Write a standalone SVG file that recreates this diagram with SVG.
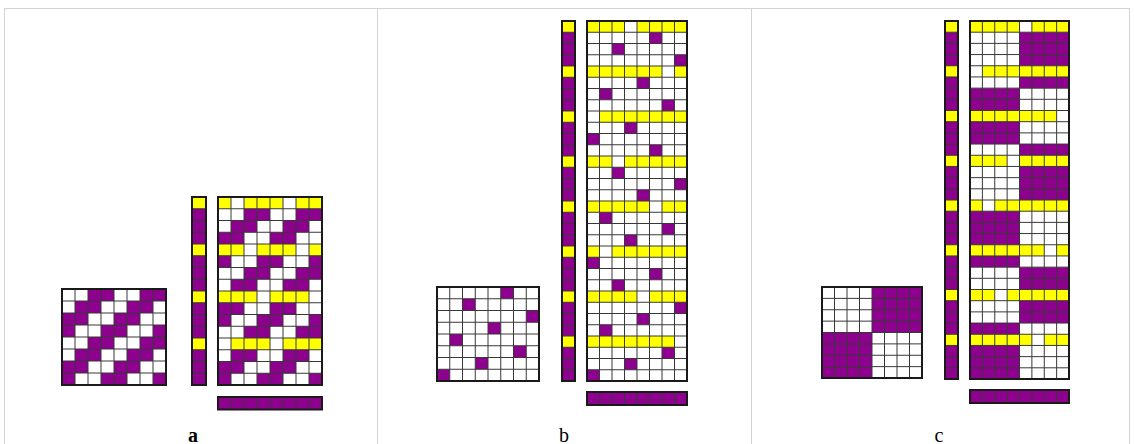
<svg xmlns="http://www.w3.org/2000/svg" width="1134" height="444" viewBox="0 0 1134 444">
<style>
.gl{fill:none;stroke:#383838;stroke-width:1}
.ob{fill:none;stroke:#1a1a1a;stroke-width:2}
.bg{fill:#ffffff}
.p{fill:#8e008e}
.y{fill:#ffff00}
.tb{stroke:#d3d3d3;stroke-width:1;fill:none}
.lbl{font-family:"Liberation Serif",serif;font-size:20px;fill:#000;text-anchor:middle}
</style>

<g id="table">
<rect class="tb" x="4.5" y="8.5" width="1125" height="445"/>
<line class="tb" x1="377.5" y1="8.5" x2="377.5" y2="444"/>
<line class="tb" x1="751.5" y1="8.5" x2="751.5" y2="444"/>
</g>

<!-- Panel a -->
<g id="a-small">
<g transform="translate(62,289) scale(13,12)">
<rect class="bg" width="8" height="8"/>
<path class="p" d="M2 0h2v1h-2zM6 0h2v1h-2zM1 1h2v1h-2zM5 1h2v1h-2zM0 2h2v1h-2zM4 2h2v1h-2zM0 3h1v1h-1zM3 3h2v1h-2zM7 3h1v1h-1zM2 4h2v1h-2zM6 4h2v1h-2zM1 5h2v1h-2zM5 5h2v1h-2zM0 6h2v1h-2zM4 6h2v1h-2zM0 7h1v1h-1zM3 7h2v1h-2zM7 7h1v1h-1z"/>
</g>
<path class="gl" d="M75 289v96M88 289v96M101 289v96M114 289v96M127 289v96M140 289v96M153 289v96M62 301h104M62 313h104M62 325h104M62 337h104M62 349h104M62 361h104M62 373h104"/>
<rect class="ob" x="62" y="289" width="104" height="96"/>
</g>
<g id="a-column">
<g transform="translate(192,197) scale(14,11.75)">
<rect class="p" width="1" height="16"/>
<path class="y" d="M0 0h1v1h-1zM0 4h1v1h-1zM0 8h1v1h-1zM0 12h1v1h-1z"/>
</g>
<path class="gl" d="M192 208.75h14M192 220.5h14M192 232.25h14M192 244h14M192 255.75h14M192 267.5h14M192 279.25h14M192 291h14M192 302.75h14M192 314.5h14M192 326.25h14M192 338h14M192 349.75h14M192 361.5h14M192 373.25h14"/>
<rect class="ob" x="192" y="197" width="14" height="188"/>
</g>
<g id="a-big">
<g transform="translate(218,197) scale(13,11.75)">
<rect class="bg" width="8" height="16"/>
<path class="y" d="M0 0h1v1h-1zM2 0h3v1h-3zM6 0h2v1h-2zM0 4h2v1h-2zM3 4h3v1h-3zM7 4h1v1h-1zM0 8h3v1h-3zM4 8h3v1h-3zM1 12h3v1h-3zM5 12h3v1h-3z"/>
<path class="p" d="M2 1h2v1h-2zM6 1h2v1h-2zM1 2h2v1h-2zM5 2h2v1h-2zM0 3h2v1h-2zM4 3h2v1h-2zM0 5h1v1h-1zM3 5h2v1h-2zM7 5h1v1h-1zM2 6h2v1h-2zM6 6h2v1h-2zM1 7h2v1h-2zM5 7h2v1h-2zM0 9h2v1h-2zM4 9h2v1h-2zM0 10h1v1h-1zM3 10h2v1h-2zM7 10h1v1h-1zM2 11h2v1h-2zM6 11h2v1h-2zM1 13h2v1h-2zM5 13h2v1h-2zM0 14h2v1h-2zM4 14h2v1h-2zM0 15h1v1h-1zM3 15h2v1h-2zM7 15h1v1h-1z"/>
</g>
<path class="gl" d="M231 197v188M244 197v188M257 197v188M270 197v188M283 197v188M296 197v188M309 197v188M218 208.75h104M218 220.5h104M218 232.25h104M218 244h104M218 255.75h104M218 267.5h104M218 279.25h104M218 291h104M218 302.75h104M218 314.5h104M218 326.25h104M218 338h104M218 349.75h104M218 361.5h104M218 373.25h104"/>
<rect class="ob" x="218" y="197" width="104" height="188"/>
</g>
<g id="a-bar">
<rect class="p" x="218" y="397" width="104" height="12.5"/>
<path class="gl" d="M231 397v12.5M244 397v12.5M257 397v12.5M270 397v12.5M283 397v12.5M296 397v12.5M309 397v12.5"/>
<rect class="ob" x="218" y="397" width="104" height="12.5"/>
</g>
<text class="lbl" x="193" y="442" font-weight="bold">a</text>

<!-- Panel b -->
<g id="b-small">
<g transform="translate(437,287) scale(12.75,11.75)">
<rect class="bg" width="8" height="8"/>
<path class="p" d="M5 0h1v1h-1zM2 1h1v1h-1zM7 2h1v1h-1zM4 3h1v1h-1zM1 4h1v1h-1zM6 5h1v1h-1zM3 6h1v1h-1zM0 7h1v1h-1z"/>
</g>
<path class="gl" d="M449.75 287v94M462.5 287v94M475.25 287v94M488 287v94M500.75 287v94M513.5 287v94M526.25 287v94M437 298.75h102M437 310.5h102M437 322.25h102M437 334h102M437 345.75h102M437 357.5h102M437 369.25h102"/>
<rect class="ob" x="437" y="287" width="102" height="94"/>
</g>
<g id="b-column">
<g transform="translate(562,21) scale(13,11.25)">
<rect class="p" width="1" height="32"/>
<path class="y" d="M0 0h1v1h-1zM0 4h1v1h-1zM0 8h1v1h-1zM0 12h1v1h-1zM0 16h1v1h-1zM0 20h1v1h-1zM0 24h1v1h-1zM0 28h1v1h-1z"/>
</g>
<path class="gl" d="M562 32.25h13M562 43.5h13M562 54.75h13M562 66h13M562 77.25h13M562 88.5h13M562 99.75h13M562 111h13M562 122.25h13M562 133.5h13M562 144.75h13M562 156h13M562 167.25h13M562 178.5h13M562 189.75h13M562 201h13M562 212.25h13M562 223.5h13M562 234.75h13M562 246h13M562 257.25h13M562 268.5h13M562 279.75h13M562 291h13M562 302.25h13M562 313.5h13M562 324.75h13M562 336h13M562 347.25h13M562 358.5h13M562 369.75h13"/>
<rect class="ob" x="562" y="21" width="13" height="360"/>
</g>
<g id="b-big">
<g transform="translate(587,21) scale(12.5,11.25)">
<rect class="bg" width="8" height="32"/>
<path class="y" d="M0 0h3v1h-3zM4 0h4v1h-4zM0 4h6v1h-6zM7 4h1v1h-1zM1 8h7v1h-7zM0 12h2v1h-2zM3 12h5v1h-5zM0 16h5v1h-5zM6 16h2v1h-2zM0 20h1v1h-1zM2 20h6v1h-6zM0 24h4v1h-4zM5 24h3v1h-3zM0 28h7v1h-7z"/>
<path class="p" d="M5 1h1v1h-1zM2 2h1v1h-1zM7 3h1v1h-1zM4 5h1v1h-1zM1 6h1v1h-1zM6 7h1v1h-1zM3 9h1v1h-1zM0 10h1v1h-1zM5 11h1v1h-1zM2 13h1v1h-1zM7 14h1v1h-1zM4 15h1v1h-1zM1 17h1v1h-1zM6 18h1v1h-1zM3 19h1v1h-1zM0 21h1v1h-1zM5 22h1v1h-1zM2 23h1v1h-1zM7 25h1v1h-1zM4 26h1v1h-1zM1 27h1v1h-1zM6 29h1v1h-1zM3 30h1v1h-1zM0 31h1v1h-1z"/>
</g>
<path class="gl" d="M599.5 21v360M612 21v360M624.5 21v360M637 21v360M649.5 21v360M662 21v360M674.5 21v360M587 32.25h100M587 43.5h100M587 54.75h100M587 66h100M587 77.25h100M587 88.5h100M587 99.75h100M587 111h100M587 122.25h100M587 133.5h100M587 144.75h100M587 156h100M587 167.25h100M587 178.5h100M587 189.75h100M587 201h100M587 212.25h100M587 223.5h100M587 234.75h100M587 246h100M587 257.25h100M587 268.5h100M587 279.75h100M587 291h100M587 302.25h100M587 313.5h100M587 324.75h100M587 336h100M587 347.25h100M587 358.5h100M587 369.75h100"/>
<rect class="ob" x="587" y="21" width="100" height="360"/>
</g>
<g id="b-bar">
<rect class="p" x="587" y="392" width="100" height="13"/>
<path class="gl" d="M599.5 392v13M612 392v13M624.5 392v13M637 392v13M649.5 392v13M662 392v13M674.5 392v13"/>
<rect class="ob" x="587" y="392" width="100" height="13"/>
</g>
<text class="lbl" x="564" y="442">b</text>

<!-- Panel c -->
<g id="c-small">
<g transform="translate(822,287) scale(12.5,11.375)">
<rect class="bg" width="8" height="8"/>
<path class="p" d="M4 0h4v4h-4zM0 4h4v4h-4z"/>
</g>
<path class="gl" d="M834.5 287v91M847 287v91M859.5 287v91M872 287v91M884.5 287v91M897 287v91M909.5 287v91M822 298.375h100M822 309.75h100M822 321.125h100M822 332.5h100M822 343.875h100M822 355.25h100M822 366.625h100"/>
<rect class="ob" x="822" y="287" width="100" height="91"/>
</g>
<g id="c-column">
<g transform="translate(945,21) scale(13,11.1875)">
<rect class="p" width="1" height="32"/>
<path class="y" d="M0 0h1v1h-1zM0 4h1v1h-1zM0 8h1v1h-1zM0 12h1v1h-1zM0 16h1v1h-1zM0 20h1v1h-1zM0 24h1v1h-1zM0 28h1v1h-1z"/>
</g>
<path class="gl" d="M945 32.19h13M945 43.38h13M945 54.56h13M945 65.75h13M945 76.94h13M945 88.13h13M945 99.31h13M945 110.5h13M945 121.69h13M945 132.88h13M945 144.06h13M945 155.25h13M945 166.44h13M945 177.63h13M945 188.81h13M945 200h13M945 211.19h13M945 222.38h13M945 233.56h13M945 244.75h13M945 255.94h13M945 267.13h13M945 278.31h13M945 289.5h13M945 300.69h13M945 311.88h13M945 323.06h13M945 334.25h13M945 345.44h13M945 356.63h13M945 367.81h13"/>
<rect class="ob" x="945" y="21" width="13" height="358"/>
</g>
<g id="c-big">
<g transform="translate(970,21) scale(12.375,11.1875)">
<rect class="bg" width="8" height="32"/>
<path class="y" d="M0 0h4v1h-4zM5 0h3v1h-3zM1 4h7v1h-7zM0 8h7v1h-7zM0 12h3v1h-3zM4 12h4v1h-4zM0 16h1v1h-1zM2 16h6v1h-6zM0 20h6v1h-6zM7 20h1v1h-1zM0 24h2v1h-2zM3 24h5v1h-5zM0 28h5v1h-5zM6 28h2v1h-2z"/>
<path class="p" d="M4 1h4v3h-4zM4 5h4v1h-4zM0 6h4v2h-4zM0 9h4v2h-4zM4 11h4v1h-4zM4 13h4v3h-4zM0 17h4v3h-4zM0 21h4v1h-4zM4 22h4v2h-4zM4 25h4v2h-4zM0 27h4v1h-4zM0 29h4v3h-4z"/>
</g>
<path class="gl" d="M982.38 21v358M994.75 21v358M1007.13 21v358M1019.5 21v358M1031.88 21v358M1044.25 21v358M1056.63 21v358M970 32.19h99M970 43.38h99M970 54.56h99M970 65.75h99M970 76.94h99M970 88.13h99M970 99.31h99M970 110.5h99M970 121.69h99M970 132.88h99M970 144.06h99M970 155.25h99M970 166.44h99M970 177.63h99M970 188.81h99M970 200h99M970 211.19h99M970 222.38h99M970 233.56h99M970 244.75h99M970 255.94h99M970 267.13h99M970 278.31h99M970 289.5h99M970 300.69h99M970 311.88h99M970 323.06h99M970 334.25h99M970 345.44h99M970 356.63h99M970 367.81h99"/>
<rect class="ob" x="970" y="21" width="99" height="358"/>
</g>
<g id="c-bar">
<rect class="p" x="970" y="390" width="99" height="13"/>
<path class="gl" d="M982.38 390v13M994.75 390v13M1007.13 390v13M1019.5 390v13M1031.88 390v13M1044.25 390v13M1056.63 390v13"/>
<rect class="ob" x="970" y="390" width="99" height="13"/>
</g>
<text class="lbl" x="939" y="442">c</text>
</svg>
